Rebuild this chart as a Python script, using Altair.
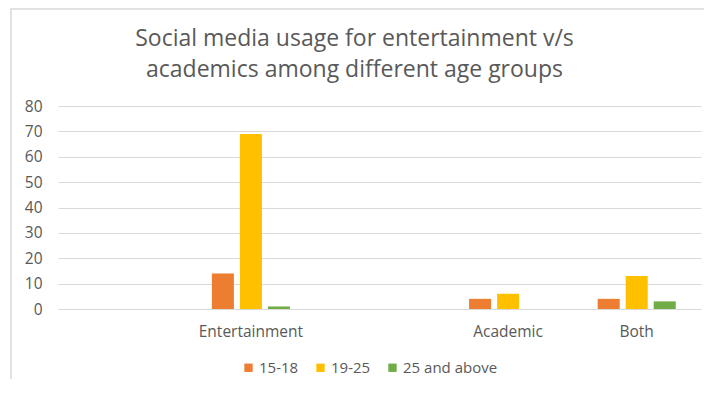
import altair as alt
import pandas as pd

categories = ["", "Entertainment", " ", "Academic", "Both"]
groups = ["15-18", "19-25", "25 and above"]
shown_categories = ["Entertainment", "Academic", "Both"]
v_15_18 = [14, 4, 4]
v_19_25 = [69, 6, 13]
v_25_up = [1, 0, 3]
colors = ["#ED7D31", "#FFC000", "#70AD47"]

rows = []
for i, c in enumerate(shown_categories):
    for g, vals in zip(groups, [v_15_18, v_19_25, v_25_up]):
        rows.append({"category": c, "group": g, "value": vals[i]})
df = pd.DataFrame(rows)

FONT = "Open Sans"
GRAY = "#595959"

bars = alt.Chart(df).mark_bar().encode(
    x=alt.X("category:N", sort=categories,
            scale=alt.Scale(domain=categories, paddingInner=0.393, paddingOuter=0.1965),
            axis=alt.Axis(title=None, labelAngle=0, ticks=False, domain=True,
                          domainColor="#d9d9d9", labelPadding=15, labelFontSize=15.5,
                          labelColor=GRAY, labelFont=FONT)),
    xOffset=alt.XOffset("group:N", sort=groups,
                        scale=alt.Scale(paddingInner=0.214, paddingOuter=0)),
    y=alt.Y("value:Q", scale=alt.Scale(domain=[0, 80]),
            axis=alt.Axis(title=None, values=list(range(0, 81, 10)), ticks=False,
                          domain=False, grid=True, gridColor="#d9d9d9",
                          labelPadding=16, labelFontSize=15.5, labelColor=GRAY,
                          labelFont=FONT)),
    color=alt.Color("group:N", sort=groups,
                    scale=alt.Scale(domain=groups, range=colors),
                    legend=alt.Legend(title=None, orient="none", direction="horizontal",
                                      legendX=183, legendY=254, symbolType="square",
                                      symbolSize=70, symbolStrokeWidth=0,
                                      labelFontSize=15, labelColor=GRAY, labelFont=FONT,
                                      columnPadding=14, labelOffset=3)),
)

frame = alt.Chart(pd.DataFrame({"a": [0]})).mark_rect(
    fill=None, stroke="#d9d9d9", strokeWidth=1.5
).encode(x=alt.value(-47), x2=alt.value(700), y=alt.value(-97), y2=alt.value(400))

chart = alt.layer(frame, bars).properties(
    width=643, height=203,
    autosize=alt.AutoSizeParams(type="none"),
    padding={"left": 50, "top": 98, "right": 3, "bottom": 70},
    title=alt.TitleParams(
        text=["Social media usage for entertainment v/s", "academics among different age groups"],
        fontSize=23, font=FONT, fontWeight="normal", color=GRAY,
        anchor="middle", dx=-25, offset=-74, lineHeight=31,
    ),
).configure_view(stroke=None)

chart.save("out.html", embed_options={"renderer": "svg", "actions": False})
